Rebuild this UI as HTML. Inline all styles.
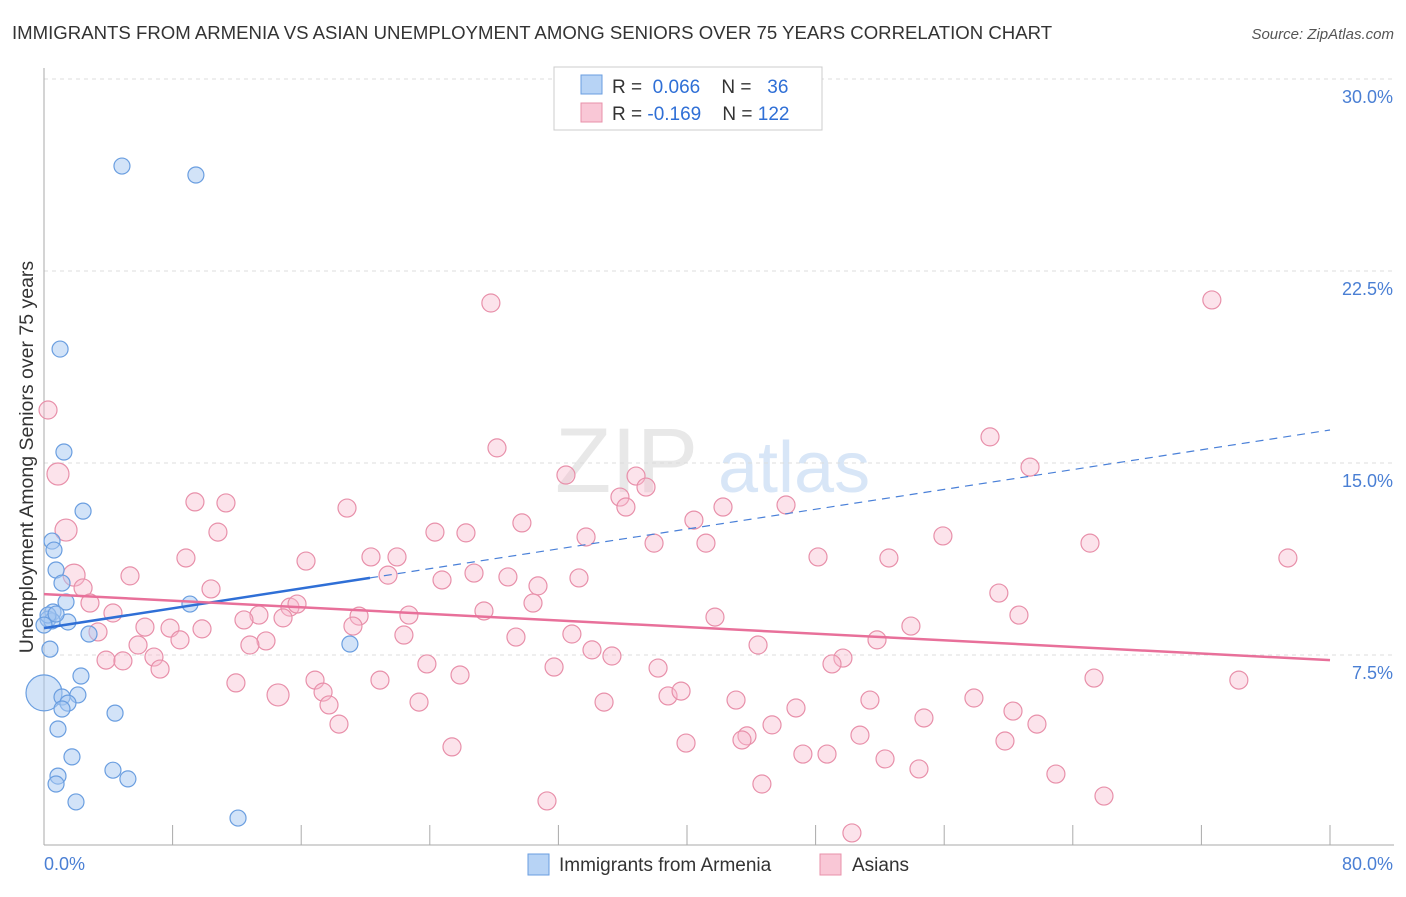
<!DOCTYPE html>
<html><head><meta charset="utf-8">
<style>
body{margin:0;background:#fff;font-family:"Liberation Sans",sans-serif;}
svg text{font-family:"Liberation Sans",sans-serif;}
</style></head>
<body>
<svg id="chart" width="1406" height="892" viewBox="0 0 1406 892" xmlns="http://www.w3.org/2000/svg">
<text x="12" y="39" font-size="18.6" fill="#333">IMMIGRANTS FROM ARMENIA VS ASIAN UNEMPLOYMENT AMONG SENIORS OVER 75 YEARS CORRELATION CHART</text>
<text x="1394" y="39" font-size="15" fill="#555" text-anchor="end" font-style="italic">Source: ZipAtlas.com</text>
<g>
<text x="555" y="492" font-size="92" fill="#d9d9d9" font-family="Liberation Serif" opacity="0.6">ZIP</text>
<text x="718" y="492" font-size="72" fill="#a9c8ee" opacity="0.45">atlas</text>
</g>
<g id="grid"></g>
<g id="axes"></g>
<g id="pts"></g>
<g id="lines"></g>
<text transform="translate(33,457) rotate(-90)" font-size="19.5" fill="#333" text-anchor="middle">Unemployment Among Seniors over 75 years</text>
<g>
<rect x="554" y="67" width="268" height="63" fill="#fff" stroke="#ccc"/>
<rect x="581" y="75" width="21" height="19" fill="#b7d3f5" stroke="#6a9ee0"/>
<rect x="581" y="103" width="21" height="19" fill="#f9c7d6" stroke="#e890aa"/>
<text x="612" y="93" font-size="19" fill="#333">R = <tspan fill="#2f6fd6">&#160;0.066</tspan>&#160;&#160;&#160;&#160;N = <tspan fill="#2f6fd6">&#160;&#160;36</tspan></text>
<text x="612" y="120" font-size="19" fill="#333">R = <tspan fill="#2f6fd6">-0.169</tspan>&#160;&#160;&#160;&#160;N = <tspan fill="#2f6fd6">122</tspan></text>
</g>
<g>
<rect x="528" y="854" width="21" height="21" fill="#b7d3f5" stroke="#6a9ee0"/>
<text x="559" y="871" font-size="19" fill="#333">Immigrants from Armenia</text>
<rect x="820" y="854" width="21" height="21" fill="#f9c7d6" stroke="#e890aa"/>
<text x="852" y="871" font-size="19" fill="#333">Asians</text>
</g>
</svg>
<script>
const xTicks=[0,8,16,24,32,40,48,56,64,72,80];
const yTicks=[7.5,15,22.5,30];
const yTickLabels=["7.5%","15.0%","22.5%","30.0%"];
const blueX=[4.85,9.45,1.0,1.24,2.43,0.5,0.62,0.75,1.12,1.37,0.56,0.25,0.5,1.49,2.8,9.08,19.03,0.37,2.3,0,1.12,2.11,1.49,1.12,4.42,0.87,1.74,0.87,0.75,4.29,5.22,1.99,12.07,0.25,0.75,0];
const blueY=[26.6,26.25,19.45,15.43,13.12,11.95,11.6,10.82,10.31,9.57,9.18,8.9,8.83,8.79,8.32,9.49,7.93,7.73,6.68,6.02,5.86,5.94,5.62,5.39,5.23,4.61,3.52,2.77,2.46,3.0,2.66,1.76,1.13,9.06,9.1,8.67];
const pinkX=[27.8,72.65,0.25,0.87,58.85,28.18,61.34,32.47,36.83,37.45,35.83,36.2,9.39,11.32,18.85,1.37,10.82,24.32,26.25,29.73,40.43,42.24,46.16,33.72,37.95,41.18,55.92,65.07,8.83,16.3,20.34,21.96,48.15,52.56,77.38,1.87,5.35,2.43,10.39,24.76,26.75,28.86,30.73,33.28,21.4,2.86,4.29,15.3,15.74,13.37,12.44,14.87,19.6,22.7,27.37,30.42,59.4,60.65,41.74,6.28,7.84,9.83,3.36,8.46,13.81,12.81,19.22,22.39,29.36,32.84,51.82,53.93,5.85,3.86,4.91,6.84,7.22,34.09,35.33,23.82,31.73,38.2,44.42,49.7,49.02,16.86,20.9,25.88,65.32,74.33,11.94,14.56,17.36,17.73,23.33,34.84,38.82,39.63,43.05,51.38,57.85,60.28,46.78,18.35,54.74,61.77,45.29,43.73,43.42,39.94,50.76,59.78,25.38,47.21,48.71,52.32,54.43,62.95,44.66,31.29,65.94,50.26];
const pinkY=[21.25,21.37,17.07,14.57,16.02,15.59,14.84,14.53,14.49,14.06,13.67,13.28,13.48,13.44,13.24,12.38,12.3,12.3,12.27,12.66,12.77,13.28,13.36,12.11,11.87,11.87,12.15,11.87,11.29,11.17,11.33,11.33,11.33,11.29,11.29,10.62,10.59,10.12,10.08,10.43,10.7,10.55,10.2,10.51,10.62,9.53,9.14,9.37,9.49,9.06,8.87,8.95,9.02,9.06,9.22,9.53,9.92,9.06,8.98,8.59,8.55,8.52,8.4,8.09,8.05,7.89,8.63,8.28,8.2,8.32,8.09,8.63,7.89,7.3,7.27,7.42,6.95,7.7,7.46,7.15,7.03,6.99,7.89,7.38,7.15,6.52,6.52,6.72,6.6,6.52,6.41,5.94,6.05,5.55,5.66,5.66,5.9,6.09,5.74,5.74,5.82,5.31,5.43,4.8,5.04,4.8,4.77,4.34,4.18,4.06,4.37,4.14,3.91,3.63,3.63,3.44,3.05,2.85,2.46,1.8,1.99,0.55];
const blueTrend=[8.55,16.29];
const blueSolidEnd=20.28;
const pinkTrend=[9.88,7.3];

const X0=44,X1=1330,Y0=847,PPY=192/7.5;
const xs=v=>X0+(v/80)*(X1-X0);
const ys=v=>Y0-v*PPY;
const NS="http://www.w3.org/2000/svg";
function mk(tag,attrs,parent){const e=document.createElementNS(NS,tag);for(const k in attrs)e.setAttribute(k,attrs[k]);parent.appendChild(e);return e;}
const grid=document.getElementById('grid'),axes=document.getElementById('axes'),pts=document.getElementById('pts'),lines=document.getElementById('lines');
yTicks.forEach((t,i)=>{
  const l=mk('line',{x1:X0,x2:1394,y1:ys(t),y2:ys(t),stroke:'#ddd','stroke-dasharray':'4,4'},grid);
  
  
  const tx=mk('text',{x:1393,y:ys(t)+24,'font-size':18,fill:'#4a7fd4','text-anchor':'end'},axes);
  tx.textContent=yTickLabels[i];
  
  
});
mk('line',{x1:X0,x2:X0,y1:68,y2:845,stroke:'#aaa'},axes);
mk('line',{x1:X0,x2:1394,y1:845,y2:845,stroke:'#aaa'},axes);
xTicks.forEach(t=>{
  const l=mk('line',{x1:xs(t),x2:xs(t),y1:825,y2:845,stroke:'#aaa'},axes);
  
  
});
const xl=mk('text',{x:44,y:870,'font-size':18,fill:'#4a7fd4'},axes);xl.textContent='0.0%';


const xr=mk('text',{x:1393,y:870,'font-size':18,fill:'#4a7fd4','text-anchor':'end'},axes);xr.textContent='80.0%';



pinkX.forEach((v,i)=>{
  const big=(i===3||i===15||i===35||i===91);
  const c=mk('circle',{cx:xs(v),cy:ys(pinkY[i]),r:big?11:9,fill:'rgba(248,185,205,0.4)',stroke:'#e890aa','stroke-width':1.2},pts);
  
  
});
blueX.forEach((v,i)=>{
  const c=mk('circle',{cx:xs(v),cy:ys(blueY[i]),r:i===19?18:8,fill:'rgba(165,200,242,0.5)',stroke:'#6a9ee0','stroke-width':1.2},pts);
  
  
});
const by=v=>blueTrend[0]+(blueTrend[1]-blueTrend[0])*v/80;
const b1=mk('line',{x1:xs(0),y1:ys(by(0)),x2:xs(blueSolidEnd),y2:ys(by(blueSolidEnd)),stroke:'#2f6fd6','stroke-width':2.5},lines);


const b2=mk('line',{x1:xs(blueSolidEnd),y1:ys(by(blueSolidEnd)),x2:xs(80),y2:ys(by(80)),stroke:'#4a80d8','stroke-width':1.2,'stroke-dasharray':'8,6'},lines);


const p1=mk('line',{x1:xs(0),y1:ys(pinkTrend[0]),x2:xs(80),y2:ys(pinkTrend[1]),stroke:'#e8709a','stroke-width':2.5},lines);


</script>
</body></html>
